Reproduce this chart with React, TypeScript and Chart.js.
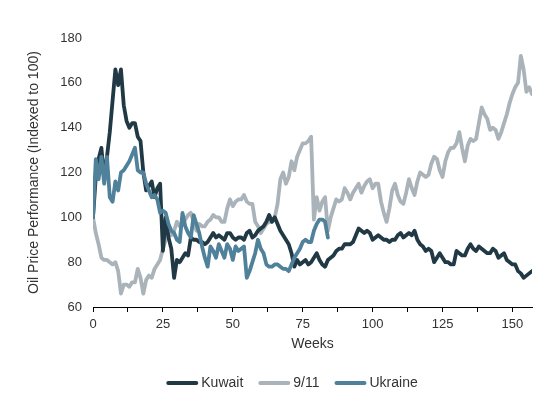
import React, { useEffect, useRef } from "react";
import { Chart, registerables } from "chart.js";

Chart.register(...registerables);

const seriesNames = ["Kuwait", "9/11", "Ukraine"];
const seriesColors = ["#213945", "#a9b3b9", "#4f819b"];

const kuwait = [
  100, 118, 126, 131, 118, 127, 138, 152, 166, 159, 166, 150, 143, 140, 142, 142, 136, 134, 120, 112,
  114, 116, 109, 113, 115, 85, 100, 91, 86, 73, 81, 80, 82, 84, 83, 91, 90, 90, 89, 89,
  88, 89, 91, 93, 91, 92, 91, 90, 93, 93, 91, 90, 91, 91, 90, 93, 94, 91, 92, 94,
  95, 96, 98, 101, 98, 100, 97, 94, 92, 90, 88, 84, 78, 81, 79, 80, 81, 79, 80, 82,
  84, 81, 79, 78, 81, 82, 83, 85, 86, 86, 88, 88, 88, 89, 92, 95, 94, 93, 94, 93,
  90, 91, 92, 91, 90, 90, 89, 90, 90, 92, 93, 91, 92, 93, 92, 94, 90, 88, 87, 85,
  86, 85, 80, 82, 84, 82, 80, 80, 79, 79, 85, 84, 83, 83, 86, 88, 86, 85, 87, 86,
  85, 84, 84, 86, 85, 82, 83, 84, 81, 80, 79, 79, 76, 75, 73, 74, 75, 76,
];

const nineEleven = [
  100, 93, 88, 82, 81, 81, 80, 79, 80, 76, 66, 70, 70, 69, 71, 71, 77, 73, 66, 72,
  74, 73, 77, 79, 81, 86, 90, 93, 92, 94, 98, 96, 97, 99, 101, 102, 98, 94, 97, 96,
  96, 98, 99, 101, 100, 100, 98, 98, 104, 108, 105, 107, 108, 108, 110, 107, 106, 106, 98, 96,
  93, 95, 97, 98, 98, 100, 106, 117, 120, 115, 118, 125, 121, 127, 130, 133, 133, 134, 136, 99,
  109, 103, 107, 109, 94, 100, 104, 108, 107, 108, 113, 111, 108, 111, 113, 115, 111, 114, 116, 117,
  113, 115, 115, 107, 102, 98, 104, 112, 115, 110, 107, 106, 111, 117, 113, 110, 116, 120, 119, 118,
  119, 124, 127, 126, 121, 118, 125, 129, 131, 131, 133, 138, 131, 125, 132, 135, 134, 135, 142, 149,
  146, 144, 139, 140, 139, 135, 138, 142, 146, 151, 155, 158, 160, 172, 166, 156, 158, 155,
];

const ukraine = [
  100, 126, 117, 127, 115, 127, 109, 107, 116, 112, 120, 121, 123, 125, 128, 131, 121, 120, 120, 115,
  112, 109, 110, 108, 102, 103, 102, 97, 94, 93, 90, 89, 102, 96, 93, 91, 101, 97, 93, 87,
  82, 78, 87, 85, 82, 88, 85, 82, 88, 86, 81, 87, 85, 86, 87, 73, 76, 80, 84, 90,
  86, 84, 79, 78, 78, 79, 79, 78, 77, 77, 76, 79, 82, 84, 86, 89, 90, 89, 89, 94,
  97, 99, 99, 98, 91,
];

const xTickValues = [0, 12.5, 25, 37.5, 50, 62.5, 75, 87.5, 100, 112.5, 125, 137.5, 150];
const xTickLabels = ["0", "", "25", "", "50", "", "75", "", "100", "", "125", "", "150"];
const yTickValues = [60, 80, 100, 120, 140, 160, 180];

const FONT = 'Arial, "Liberation Sans", sans-serif';
const TEXT = "#333333";

const lineLegend = {
  id: "lineLegend",
  afterDraw(chart: any) {
    const ctx = chart.ctx;
    const ds = chart.data.datasets;
    const sample = 32;
    const gap = 3;
    const itemGap = 15;
    const cy = 383;
    const centerX = 292;
    ctx.save();
    ctx.font = `14px ${FONT}`;
    const widths = ds.map((d: any) => ctx.measureText(d.label).width);
    const total =
      widths.reduce((a: number, w: number) => a + w + sample + gap, 0) + itemGap * (ds.length - 1);
    let x = centerX - total / 2;
    ds.forEach((d: any, i: number) => {
      ctx.strokeStyle = d.borderColor;
      ctx.lineWidth = 4;
      ctx.lineCap = "round";
      ctx.beginPath();
      ctx.moveTo(x + 2, cy);
      ctx.lineTo(x + sample - 2, cy);
      ctx.stroke();
      ctx.fillStyle = TEXT;
      ctx.textBaseline = "middle";
      ctx.textAlign = "left";
      ctx.fillText(d.label, x + sample + gap, cy);
      x += sample + gap + widths[i] + itemGap;
    });
    ctx.restore();
  },
};

export default function App() {
  const ref = useRef<HTMLCanvasElement | null>(null);

  useEffect(() => {
    if (!ref.current) return;
    const all = [kuwait, nineEleven, ukraine];
    const drawOrder = [1, 2, 0];
    const chart = new Chart(ref.current, {
      type: "line",
      data: {
        datasets: all.map((arr, i) => ({
          label: seriesNames[i],
          data: arr.map((v, w) => ({ x: w, y: v })),
          borderColor: seriesColors[i],
          backgroundColor: seriesColors[i],
          borderWidth: 3.8,
          pointRadius: 0,
          tension: 0,
          borderJoinStyle: "round" as const,
          borderCapStyle: "round" as const,
          order: drawOrder[i],
        })),
      },
      options: {
        responsive: false,
        animation: false,
        layout: { padding: { left: 0, right: 18, top: 38, bottom: 29 } },
        plugins: {
          tooltip: { enabled: false },
          legend: { display: false },
        },
        scales: {
          x: {
            type: "linear",
            min: 0,
            max: 157,
            afterFit: (s: any) => {
              s.height = 61;
            },
            afterBuildTicks: (s: any) => {
              s.ticks = xTickValues.map((v) => ({ value: v }));
            },
            ticks: {
              autoSkip: false,
              maxRotation: 0,
              padding: 5,
              color: TEXT,
              font: { family: FONT, size: 13 },
              callback: (_v: any, i: number) => xTickLabels[i],
            },
            grid: {
              display: true,
              drawOnChartArea: false,
              drawTicks: true,
              tickLength: 5,
              color: "#000",
            },
            border: { display: true, color: "#000", width: 1 },
            title: {
              display: true,
              text: "Weeks",
              color: TEXT,
              font: { family: FONT, size: 14 },
              padding: { top: 0, bottom: 15 },
            },
          },
          y: {
            type: "linear",
            min: 60,
            max: 180,
            afterFit: (s: any) => {
              s.width = 93;
            },
            afterBuildTicks: (s: any) => {
              s.ticks = yTickValues.map((v) => ({ value: v }));
            },
            ticks: {
              padding: 11,
              color: TEXT,
              font: { family: FONT, size: 13 },
            },
            grid: { display: false, drawTicks: false },
            border: { display: false },
            title: {
              display: true,
              text: "Oil Price Performance (Indexed to 100)",
              color: TEXT,
              font: { family: FONT, size: 14 },
              padding: { top: 26, bottom: 0 },
            },
          },
        },
      },
      plugins: [lineLegend],
    });
    return () => chart.destroy();
  }, []);

  return (
    <div style={{ position: "absolute", left: 0, top: 0, width: 550, height: 397 }}>
      <canvas ref={ref} width={550} height={397} />
    </div>
  );
}
